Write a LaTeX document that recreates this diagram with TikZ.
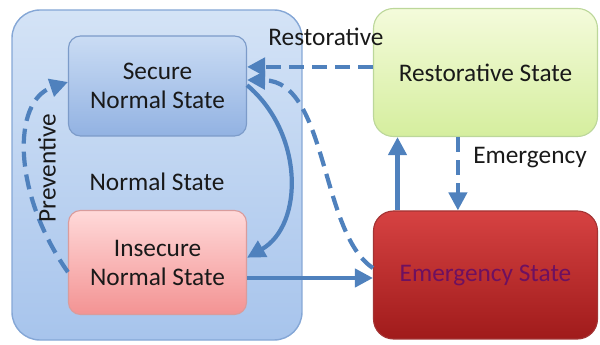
\documentclass[tikz,border=0pt]{standalone}
\usepackage{fontspec}
\setmainfont{Carlito}
\usetikzlibrary{positioning,arrows.meta,calc,backgrounds}
\definecolor{arrowblue}{HTML}{4F81BD}
\definecolor{normtop}{HTML}{D4E3F6}
\definecolor{normbot}{HTML}{A7C4EC}
\definecolor{normdraw}{HTML}{85A7D6}
\definecolor{sectop}{HTML}{CADCF4}
\definecolor{secbot}{HTML}{92B2E2}
\definecolor{secdraw}{HTML}{7C9BC9}
\definecolor{instop}{HTML}{FFD9D9}
\definecolor{insbot}{HTML}{F39393}
\definecolor{insdraw}{HTML}{D99C9C}
\definecolor{restop}{HTML}{F4FBDB}
\definecolor{resbot}{HTML}{D5EE9E}
\definecolor{resdraw}{HTML}{BCD79A}
\definecolor{emertop}{HTML}{D64242}
\definecolor{emerbot}{HTML}{A01B1B}
\definecolor{emerdraw}{HTML}{A33434}
\definecolor{emertext}{HTML}{6E1060}
\tikzset{
  % --- state boxes -----------------------------------------------------
  base/.style     ={rounded corners=0.3cm, draw, line width=0.8pt, align=center,
                    font=\fontsize{18}{20.6}\selectfont, text=black!90},
  region/.style   ={rounded corners=0.7cm, draw=normdraw, line width=1pt,
                    top color=normtop, bottom color=normbot},
  secure/.style   ={base, draw=secdraw, top color=sectop, bottom color=secbot,
                    minimum width=4.45cm, minimum height=2.5cm},
  insecure/.style ={base, draw=insdraw, top color=instop, bottom color=insbot,
                    minimum width=4.45cm, minimum height=2.6cm},
  restore/.style  ={base, rounded corners=0.5cm, draw=resdraw, top color=restop,
                    bottom color=resbot, minimum width=5.6cm, minimum height=3.2cm},
  emerg/.style    ={base, rounded corners=0.5cm, draw=emerdraw, top color=emertop,
                    bottom color=emerbot, text=emertext,
                    minimum width=5.6cm, minimum height=3.2cm},
  % --- arrows ----------------------------------------------------------
  arrow/.style    ={-{Triangle[length=0.45cm, width=0.45cm]}, line width=3pt,
                    draw=arrowblue},
  dasharrow/.style={arrow, dash pattern=on 0.375cm off 0.2cm},
  % --- labels ----------------------------------------------------------
  lab/.style      ={font=\fontsize{18}{20.6}\selectfont, text=black!90},
}

\begin{document}
\begin{tikzpicture}
  \useasboundingbox (0,0) rectangle (15,8.625);

  % ============================ normal state region ============================
  \node[region, minimum width=7.25cm, minimum height=8.25cm] (norm) at (3.925,4.25) {};
  \node[lab] (normlab) at (3.925,4.075) {Normal State};

  % ============================ states ============================
  \node[secure] (sec) at (3.9375,6.475) {Secure\\Normal State};
  \node[insecure] (ins) at (3.9375,2.0625) {Insecure\\Normal State};
  \node[restore] (rest) at (12.1375,6.8125) {Restorative State};
  \node[emerg] (emer) at (12.1375,1.75) {Emergency State};

  % ============================ transitions ============================
  \coordinate (restout) at ([yshift=0.14cm]rest.west);
  \draw[dasharrow] (restout) -- (sec.east |- restout);
  \draw[dasharrow] ([yshift=0.175cm]emer.west)
    .. controls (8.0,2.8) and (8.2,6.6) .. ([yshift=0.15cm]sec.east);
  \draw[arrow] ([yshift=0.02cm]sec.east)
    .. controls (7.6,5.3) and (7.6,3.0) .. ([yshift=0.12cm]ins.east);
  \coordinate (emerin) at ([yshift=-0.075cm]emer.west);
  \draw[arrow] (ins.east |- emerin) -- (emerin);
  \draw[arrow] ([xshift=-2.2cm]emer.north) -- ([xshift=-2.2cm]rest.south);
  \draw[dasharrow] ([xshift=-0.69cm]rest.south) -- ([xshift=-0.69cm]emer.north);
  \draw[dasharrow] ([yshift=-0.24cm]ins.west)
    .. controls (0.3,3.8) and (0.3,6.1) .. ([yshift=0.1cm]sec.west);

  % ============================ transition labels ============================
  \node[lab] (reslab) at (8.15,7.7) {Restorative};
  \node[lab] (emlab) at (13.25,4.675) {Emergency};
  \node[lab, rotate=90] (prevlab) at (1.175,4.425) {Preventive};

\end{tikzpicture}
\end{document}
